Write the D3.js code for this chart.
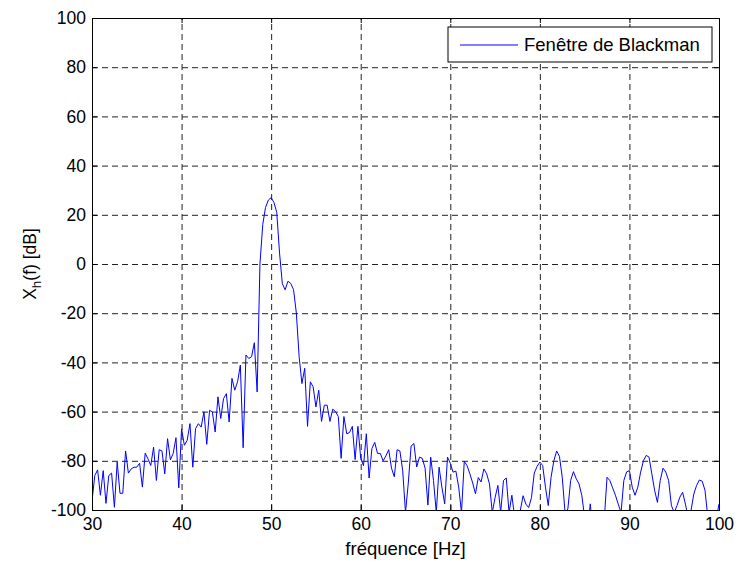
<!DOCTYPE html>
<html>
<head>
<meta charset="utf-8">
<script src="https://cdn.jsdelivr.net/npm/d3@7"></script>
<style>
  body { margin: 0; background: #fff; }
  svg { font-family: "Liberation Sans", Arial, sans-serif; }
</style>
</head>
<body>
<script>
// spectrum samples, 0.3125 Hz apart from 30 to 100 Hz
var freqStart = 30;
var freqStep = 0.3125;
var magnitudeDb = [
  -96.3, -86, -83.7, -94, -84, -97.3, -86, -85, -98.9, -80.5,
  -93.2, -93.2, -76, -85, -83.3, -82.6, -82.6, -81, -90.7, -76.9,
  -79.2, -81.9, -74.4, -88, -75.5, -76, -85.3, -71, -79.6, -77,
  -70.6, -91, -67, -73.7, -71.7, -64.9, -82.6, -66.9, -64.9, -66.3,
  -60.1, -73.3, -59.5, -60.1, -68.3, -54, -62.8, -54.7, -52.7, -64.2,
  -46.5, -51.3, -47.9, -41.1, -74.7, -37, -38.4, -37.7, -32, -52,
  0, 16, 23, 26, 27, 25, 21, 4.5, -8, -10.5,
  -7, -7.9, -10.4, -19.9, -37.7, -48.6, -42.4, -66, -47.9, -49.9,
  -58.1, -51.3, -64, -57.4, -57.4, -64, -59, -60, -62, -79,
  -62, -69, -68.5, -66, -79.5, -66, -79, -82, -69, -87,
  -75, -72.5, -77, -77, -80, -78, -75.5, -83, -86.5, -75.5,
  -76, -84, -101, -89, -74, -73, -82.5, -78.5, -79, -83,
  -98, -78.5, -88, -101, -82.6, -90.7, -97.5, -78.5, -81, -84.6,
  -84.2, -90.7, -101, -80.2, -82, -85.3, -89, -93.4, -86.8, -88.6,
  -83.3, -85.3, -89.4, -101, -95, -90, -101, -88, -87, -101,
  -94, -103, -104, -100.3, -94.2, -97.6, -99, -95, -85, -82.3,
  -80.5, -81.9, -90.7, -98.2, -86.7, -80, -76, -78.2, -86.7, -101,
  -99.6, -88, -84.4, -87.3, -89.4, -94.2, -103, -110, -97.5, -108,
  -110, -105, -110, -104, -86.7, -88, -91, -94, -97.6, -101,
  -88, -84.5, -84, -90.7, -94, -90.7, -84.6, -80, -77.8, -78.5,
  -85.3, -92, -96.9, -88, -83, -84.6, -88, -98.2, -101, -98.2,
  -94.8, -92.8, -97.6, -103, -100.3, -93.5, -90, -87.8, -88.3, -92,
  -103, -108, -106, -104, -97.5
];
var xTicks = [30, 40, 50, 60, 70, 80, 90, 100];
var yTicks = [-100, -80, -60, -40, -20, 0, 20, 40, 60, 80, 100];
var legendLabel = "Fenêtre de Blackman";
var xLabel = "fréquence [Hz]";

var margin = {top: 18, right: 17, bottom: 53, left: 92};
var width = 736 - margin.left - margin.right;
var height = 563 - margin.top - margin.bottom;

var data = magnitudeDb.map(function(v, i) {
  return {f: freqStart + i * freqStep, v: v};
});

var x = d3.scaleLinear().domain([30, 100]).range([0, width]);
var y = d3.scaleLinear().domain([-100, 100]).range([height, 0]);

// plain hyphen for negatives, like the original
var fmt = function(d) { return String(d); };

var svg = d3.select("body").append("svg")
  .attr("width", 736)
  .attr("height", 563);

var g = svg.append("g")
  .attr("transform", "translate(" + margin.left + "," + margin.top + ")");

// grid
g.append("g")
  .attr("class", "grid")
  .attr("transform", "translate(0," + height + ")")
  .call(d3.axisBottom(x).tickValues(xTicks.slice(1, -1)).tickSize(-height).tickFormat(""));
g.append("g")
  .attr("class", "grid")
  .call(d3.axisLeft(y).tickValues(yTicks.slice(1, -1)).tickSize(-width).tickFormat(""));
g.selectAll(".grid .domain").remove();
g.selectAll(".grid line")
  .attr("stroke", "#222")
  .attr("stroke-dasharray", "6,4");

// spectrum line
g.append("clipPath").attr("id", "clip")
  .append("rect").attr("width", width).attr("height", height);

var line = d3.line()
  .x(function(d) { return x(d.f); })
  .y(function(d) { return y(d.v); });

g.append("path")
  .datum(data)
  .attr("clip-path", "url(#clip)")
  .attr("fill", "none")
  .attr("stroke", "#0000ff")
  .attr("stroke-width", 1)
  .attr("d", line);

// axes, ticks pointing inward
g.append("g")
  .attr("transform", "translate(0," + height + ")")
  .call(d3.axisBottom(x).tickValues(xTicks).tickSize(-5).tickPadding(8).tickFormat(fmt));
g.append("g")
  .call(d3.axisLeft(y).tickValues(yTicks).tickSize(-5).tickPadding(6).tickFormat(fmt));
g.append("g")
  .call(d3.axisTop(x).tickValues(xTicks).tickSize(-5).tickFormat(""));
g.append("g")
  .attr("transform", "translate(" + width + ",0)")
  .call(d3.axisRight(y).tickValues(yTicks).tickSize(-5).tickFormat(""));

g.selectAll(".domain").attr("stroke", "#000");
g.selectAll(".tick text")
  .attr("fill", "#000")
  .style("font-size", "17.5px")
  .style("font-family", "'Liberation Sans', Arial, sans-serif");

// axis labels
svg.append("text")
  .attr("x", margin.left + width / 2)
  .attr("y", 555)
  .attr("text-anchor", "middle")
  .style("font-size", "18.5px")
  .text(xLabel);

var yl = svg.append("text")
  .attr("transform", "translate(36," + (margin.top + height / 2) + ") rotate(-90)")
  .attr("text-anchor", "middle")
  .style("font-size", "17.5px");
yl.append("tspan").text("X");
yl.append("tspan").attr("dy", 5).style("font-size", "13.5px").text("h");
yl.append("tspan").attr("dy", -5).text("(f) [dB]");

// legend
var legend = svg.append("g").attr("transform", "translate(448,27)");
legend.append("rect")
  .attr("width", 264)
  .attr("height", 35)
  .attr("fill", "#fff")
  .attr("stroke", "#000");
legend.append("line")
  .attr("x1", 12).attr("x2", 70)
  .attr("y1", 18).attr("y2", 18)
  .attr("stroke", "#0000ff");
legend.append("text")
  .attr("x", 76)
  .attr("y", 24)
  .style("font-size", "18.5px")
  .text(legendLabel);
</script>
</body>
</html>
